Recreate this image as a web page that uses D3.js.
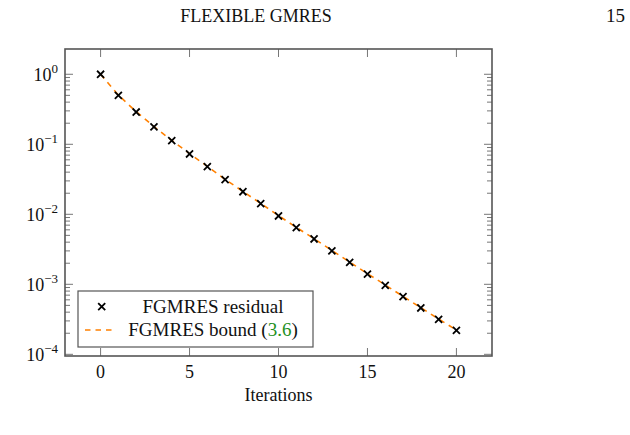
<!DOCTYPE html>
<html>
<head>
<meta charset="utf-8">
<script src="https://cdn.jsdelivr.net/npm/d3@7"></script>
<style>
  body { margin: 0; background: #fff; }
  svg text { font-family: "Liberation Serif", "DejaVu Serif", serif; fill: #111; }
</style>
</head>
<body>
<svg width="630" height="435"></svg>
<script>
// iteration numbers and the two curves
var iterations = [0, 1, 2, 3, 4, 5, 6, 7, 8, 9, 10, 11, 12, 13, 14, 15, 16, 17, 18, 19, 20];
var residual = [1.0, 0.501, 0.289, 0.177, 0.1125, 0.0727, 0.0479, 0.0312, 0.0210, 0.01417, 0.00946,
                0.00644, 0.00444, 0.00301, 0.00206, 0.00140, 0.000968, 0.000665, 0.000459, 0.000316, 0.000220];
var bound = [1.0, 0.505, 0.292, 0.179, 0.1135, 0.0735, 0.0484, 0.0316, 0.0212, 0.01432, 0.00957,
             0.00651, 0.00449, 0.00305, 0.00208, 0.00142, 0.000980, 0.000672, 0.000464, 0.000320, 0.000222];
var xTicks = [0, 5, 10, 15, 20];
var yTicks = [0, -1, -2, -3, -4]; // exponents

var svg = d3.select("svg"),
    width = +svg.attr("width"),
    height = +svg.attr("height");

var plotLeft = 65, plotRight = 492, plotTop = 49, plotBottom = 356;

var x = d3.scaleLinear().domain([-2, 22]).range([plotLeft, plotRight]);
var y = d3.scaleLog().domain([Math.pow(10, -4.024), Math.pow(10, 0.361)]).range([plotBottom, plotTop]);

var axisColor = "#555";

// header line of the page
svg.append("text").attr("x", 256).attr("y", 22).attr("text-anchor", "middle")
  .style("font-size", "18px").text("FLEXIBLE GMRES");
svg.append("text").attr("x", 625).attr("y", 22).attr("text-anchor", "end")
  .style("font-size", "19px").text("15");

// ticks (inside, on all four sides)
var tickG = svg.append("g").attr("stroke", "#777").attr("stroke-width", 1);
xTicks.forEach(function(t) {
  tickG.append("line").attr("x1", x(t)).attr("x2", x(t)).attr("y1", plotBottom).attr("y2", plotBottom - 8);
  tickG.append("line").attr("x1", x(t)).attr("x2", x(t)).attr("y1", plotTop).attr("y2", plotTop + 8);
});
yTicks.forEach(function(e) {
  var yy = y(Math.pow(10, e));
  tickG.append("line").attr("x1", plotLeft).attr("x2", plotLeft + 8).attr("y1", yy).attr("y2", yy);
  tickG.append("line").attr("x1", plotRight).attr("x2", plotRight - 8).attr("y1", yy).attr("y2", yy);
});
for (var d = -4; d < 0; d++) {
  for (var k = 2; k <= 9; k++) {
    var yy = y(k * Math.pow(10, d));
    tickG.append("line").attr("x1", plotLeft).attr("x2", plotLeft + 5).attr("y1", yy).attr("y2", yy);
    tickG.append("line").attr("x1", plotRight).attr("x2", plotRight - 5).attr("y1", yy).attr("y2", yy);
  }
}

// frame
svg.append("rect").attr("x", plotLeft).attr("y", plotTop)
  .attr("width", plotRight - plotLeft).attr("height", plotBottom - plotTop)
  .attr("fill", "none").attr("stroke", axisColor).attr("stroke-width", 1.6);

// tick labels
xTicks.forEach(function(t) {
  svg.append("text").attr("x", x(t)).attr("y", plotBottom + 22).attr("text-anchor", "middle")
    .style("font-size", "18px").text(t);
});
yTicks.forEach(function(e) {
  var lab = svg.append("text").attr("x", 58).attr("y", y(Math.pow(10, e)) + 7)
    .attr("text-anchor", "end").style("font-size", "18px");
  lab.append("tspan").text("10");
  lab.append("tspan").attr("dy", -8).style("font-size", "13px").text(e < 0 ? "\u2212" + (-e) : e);
});

svg.append("text").attr("x", (plotLeft + plotRight) / 2).attr("y", 401).attr("text-anchor", "middle")
  .style("font-size", "18px").text("Iterations");

// bound (dashed orange)
var line = d3.line()
  .x(function(d, i) { return x(iterations[i]); })
  .y(function(d) { return y(d); });

svg.append("path").datum(bound)
  .attr("d", line)
  .attr("fill", "none")
  .attr("stroke", "#ff8000")
  .attr("stroke-width", 1.6)
  .attr("stroke-dasharray", "5.5,5");

// residual markers (crosses)
var cross = d3.symbol().type(d3.symbolX).size(34);
svg.append("g").selectAll("path")
  .data(residual)
  .enter().append("path")
  .attr("d", cross)
  .attr("transform", function(d, i) { return "translate(" + x(iterations[i]) + "," + y(d) + ")"; })
  .attr("fill", "none")
  .attr("stroke", "#000")
  .attr("stroke-width", 1.8);

// legend
var lg = svg.append("g");
lg.append("rect").attr("x", 78).attr("y", 291).attr("width", 235).attr("height", 56)
  .attr("fill", "#fff").attr("stroke", axisColor).attr("stroke-width", 1.2);
lg.append("path").attr("d", cross).attr("transform", "translate(101.7,306.7)")
  .attr("fill", "none").attr("stroke", "#000").attr("stroke-width", 1.8);
lg.append("text").attr("x", 213).attr("y", 313).attr("text-anchor", "middle")
  .style("font-size", "19px").text("FGMRES residual");
lg.append("line").attr("x1", 85).attr("x2", 116).attr("y1", 330).attr("y2", 330)
  .attr("stroke", "#ff8000").attr("stroke-width", 1.6).attr("stroke-dasharray", "5.5,5");
var bt = lg.append("text").attr("x", 213).attr("y", 336).attr("text-anchor", "middle")
  .style("font-size", "19px");
bt.append("tspan").text("FGMRES bound (");
bt.append("tspan").style("fill", "#1e901e").text("3.6");
bt.append("tspan").text(")");

// cut-off caption line at the page bottom
svg.append("text").attr("x", 475).attr("y", 443).style("font-size", "13px")
  .style("fill", "#666").text("2500\u00d72500");
</script>
</body>
</html>
